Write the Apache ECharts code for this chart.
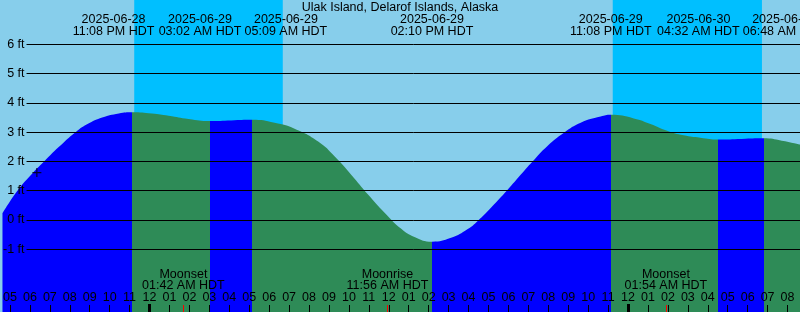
<!DOCTYPE html>
<html><head><meta charset="utf-8">
<script src="https://cdn.jsdelivr.net/npm/echarts@6/dist/echarts.min.js"></script>
<style>html,body{margin:0;padding:0;background:#87CEEB}#c{width:800px;height:312px}</style>
</head><body><div id="c"></div>
<script>
// ---------------- data ----------------
const title = 'Ulak Island, Delarof Islands, Alaska';
const refDate = '2025-06-29';            // hours below are counted from this midnight (HDT)
// tide curve: hours from 2025-06-29 00:00 HDT, height in feet
const tideHours = [-7.375, -6.625, -5.96, -5.29, -4.54, -3.71, -3.04, -2.375, -1.54, -0.867,
  0.125, 0.96, 1.96, 3.033,
  4.1, 5.15,
  6.275, 7.275, 8.46, 9.29, 10.125, 10.96, 11.79, 12.625, 13.29, 14.167,
  15.125, 15.96, 16.46, 17.125, 17.96, 18.625, 19.21, 19.96, 20.79, 21.625, 22.625, 23.133,
  24.29, 25.125, 25.96, 26.79, 27.625, 28.533,
  29.7, 30.8,
  31.71, 32.625];
const tideFeet = [0.23, 1.0, 1.53, 2.0, 2.5, 3.0, 3.3, 3.5, 3.64, 3.68,
  3.635, 3.56, 3.45, 3.38,
  3.40, 3.42,
  3.32, 3.12, 2.68, 2.17, 1.54, 0.87, 0.25, -0.30, -0.58, -0.74,
  -0.61, -0.31, -0.03, 0.42, 1.03, 1.55, 2.0, 2.53, 2.98, 3.32, 3.53, 3.59,
  3.47, 3.28, 3.05, 2.89, 2.81, 2.75,
  2.77, 2.79,
  2.71, 2.58];
// tide extremes
const eventDates = ['2025-06-28', '2025-06-29', '2025-06-29', '2025-06-29', '2025-06-29', '2025-06-30', '2025-06-30'];
const eventTimes = ['11:08 PM', '03:02 AM', '05:09 AM', '02:10 PM', '11:08 PM', '04:32 AM', '06:48 AM'];
const eventTypes = ['H', 'L', 'H', 'L', 'H', 'L', 'H'];
// moon events
const moonNames = ['Moonset', 'Moonrise', 'Moonset'];
const moonDates = ['2025-06-29', '2025-06-29', '2025-06-30'];
const moonTimes = ['01:42 AM', '11:56 AM', '01:54 AM'];
// night (sunset -> sunrise)
const sunsetDates = ['2025-06-28', '2025-06-29'];
const sunsetTimes = ['11:14 PM', '11:14 PM'];
const sunriseDates = ['2025-06-29', '2025-06-30'];
const sunriseTimes = ['06:41 AM', '06:43 AM'];
// axis tick labels
const hourLabels = ['05','06','07','08','09','10','11','12','01','02','03','04','05','06','07','08','09','10','11',
  '12','01','02','03','04','05','06','07','08','09','10','11','12','01','02','03','04','05','06','07','08'];
const firstHourTick = -7;               // 05 PM on 2025-06-28
const feetTicks = [-1, 0, 1, 2, 3, 4, 5, 6];
const tz = 'HDT';
// marker "+"
const markDate = '2025-06-28', markTime = '06:21 PM', markFeet = 1.62;

// ---------------- layout / style ----------------
const W = 800, H = 312;
const viewStart = -7.375, viewEnd = 32.625;
const yMin = -3.141, yMax = 7.512;
const FLOOD = '#0000ff', EBB = '#2e8b57', DAY = '#87ceeb', NIGHT = '#00bfff';
const FONT = 'Liberation Sans', FS = 12.5;
const labelShiftPx = [-18.7, -10, 33.7, 0, 0, -20, 20.5];

function toHours(d, t) {
  const dd = (Date.UTC(+d.slice(0,4), +d.slice(5,7)-1, +d.slice(8,10)) -
              Date.UTC(+refDate.slice(0,4), +refDate.slice(5,7)-1, +refDate.slice(8,10))) / 3600000;
  let hh = +t.slice(0,2) % 12; const mm = +t.slice(3,5);
  if (t.slice(-2) === 'PM') hh += 12;
  return dd + hh + mm / 60;
}
const evH = eventDates.map((d, i) => toHours(d, eventTimes[i]));
const moonH = moonDates.map((d, i) => toHours(d, moonTimes[i]));
const hourTicks = hourLabels.map((_, i) => firstHourTick + i);
const midnights = hourTicks.filter(h => h % 24 === 0);

const pieces = [{ lt: evH[0], color: eventTypes[0] === 'H' ? FLOOD : EBB }];
evH.forEach((h, i) => {
  const p = { gte: h, color: eventTypes[i] === 'H' ? EBB : FLOOD };
  if (i + 1 < evH.length) p.lt = evH[i + 1];
  pieces.push(p);
});
const nights = sunsetDates.map((d, i) => [
  { xAxis: toHours(d, sunsetTimes[i]) },
  { xAxis: toHours(sunriseDates[i], sunriseTimes[i]) }
]);
const g1Top = (yMax - feetTicks[feetTicks.length - 1]) / (yMax - yMin) * H;
const g1Bottom = (feetTicks[0] - yMin) / (yMax - yMin) * H;

const txt = { fontFamily: FONT, fontSize: FS, color: '#000' };
const chart = echarts.init(document.getElementById('c'));
chart.setOption({
  animation: false,
  backgroundColor: DAY,
  grid: [
    { left: 0, right: 0, top: 0, bottom: 0 },
    { left: 26, right: 0, top: g1Top, bottom: g1Bottom }
  ],
  visualMap: { show: false, type: 'piecewise', seriesIndex: 1, dimension: 0, pieces: pieces },
  xAxis: [
    { type: 'value', gridIndex: 0, min: viewStart, max: viewEnd, position: 'bottom', z: 5,
      axisLine: { show: false, onZero: false }, splitLine: { show: false },
      axisTick: { customValues: hourTicks, inside: true, length: 7, lineStyle: { color: '#000', width: 1 } },
      axisLabel: { customValues: hourTicks, inside: true, margin: 8, lineHeight: 12, ...txt,
        formatter: v => hourLabels[Math.round(v - firstHourTick)] } },
    { type: 'value', gridIndex: 0, min: viewStart, max: viewEnd, position: 'bottom', z: 6,
      axisLine: { show: false, onZero: false }, splitLine: { show: false },
      axisTick: { customValues: midnights, inside: true, length: 8, lineStyle: { color: '#000', width: 3 } },
      axisLabel: { show: false } },
    { type: 'value', gridIndex: 0, min: viewStart, max: viewEnd, position: 'bottom', z: 6,
      axisLine: { show: false, onZero: false }, splitLine: { show: false },
      axisTick: { customValues: moonH, inside: true, length: 7, lineStyle: { color: '#ff0000', width: 1 } },
      axisLabel: { customValues: moonH, inside: true, margin: 20.5, lineHeight: 11.5, ...txt,
        formatter: v => { const i = moonH.indexOf(v); return moonNames[i] + '\n' + moonTimes[i] + ' ' + tz; } } },
    { type: 'value', gridIndex: 1, min: viewStart, max: viewEnd, show: false }
  ],
  yAxis: [
    { type: 'value', gridIndex: 0, min: yMin, max: yMax, show: false },
    { type: 'value', gridIndex: 1, min: feetTicks[0], max: feetTicks[feetTicks.length - 1], interval: 1, z: 5,
      axisLine: { show: false }, axisTick: { show: false },
      splitLine: { show: true, lineStyle: { color: '#000', width: 1 } },
      axisLabel: { margin: 2, ...txt, formatter: v => v + ' ft' } }
  ],
  series: [
    { type: 'line', xAxisIndex: 0, yAxisIndex: 0, data: [], z: 1, silent: true,
      markArea: { silent: true, itemStyle: { color: NIGHT }, data: nights } },
    { type: 'line', xAxisIndex: 0, yAxisIndex: 0, z: 2, smooth: 0.5, symbol: 'none', silent: true,
      data: tideHours.map((h, i) => [h, tideFeet[i]]),
      lineStyle: { width: 0 }, areaStyle: { opacity: 1, origin: 'start' } },
    { type: 'scatter', xAxisIndex: 0, yAxisIndex: 0, z: 7, silent: true,
      symbol: 'path://M0,5H10M5,0V10', symbolSize: 9,
      itemStyle: { color: 'none', borderColor: '#000', borderWidth: 1.2 },
      data: [[toHours(markDate, markTime), markFeet]] }
  ]
});

const graphics = [{ type: 'text', z: 10, x: W / 2, y: 7.5,
  style: { text: title, font: FS + 'px "' + FONT + '"', fill: '#000', align: 'center', verticalAlign: 'middle' } }];
evH.forEach((h, i) => {
  const px = chart.convertToPixel({ xAxisIndex: 0 }, h) + labelShiftPx[i];
  graphics.push({ type: 'text', z: 10, x: px, y: 13,
    style: { text: eventDates[i] + '\n' + eventTimes[i] + ' ' + tz, font: FS + 'px "' + FONT + '"',
      lineHeight: 12.2, fill: '#000', align: 'center', verticalAlign: 'top' } });
});
chart.setOption({ graphic: graphics });
</script></body></html>
